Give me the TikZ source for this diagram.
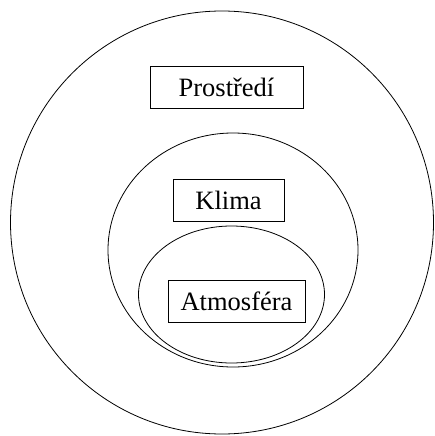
\documentclass[tikz,border=0pt]{standalone}
\usepackage{fontspec}
\setmainfont{Liberation Serif}
\begin{document}
\begin{tikzpicture}[x=1pt,y=-1pt,
  lbl/.style={draw,line width=0.9pt,minimum height=42pt,inner sep=0pt,font=\fontsize{26.5}{30}\selectfont},
  ring/.style={draw,line width=0.8pt}]
\useasboundingbox (0,0) rectangle (435,436);
\draw[ring] (222,222.5) circle (211.5);
\draw[ring] (233,250) ellipse (125 and 117);
\draw[ring] (231.5,294.5) ellipse (93 and 68.5);
\node[lbl,minimum width=153pt] (p) at (226.5,87) {Prostředí};
\node[lbl,minimum width=111pt] (k) at (228.5,200) {Klima};
\node[lbl,minimum width=137pt] (a) at (236.5,301) {Atmosféra};
\end{tikzpicture}
\end{document}
